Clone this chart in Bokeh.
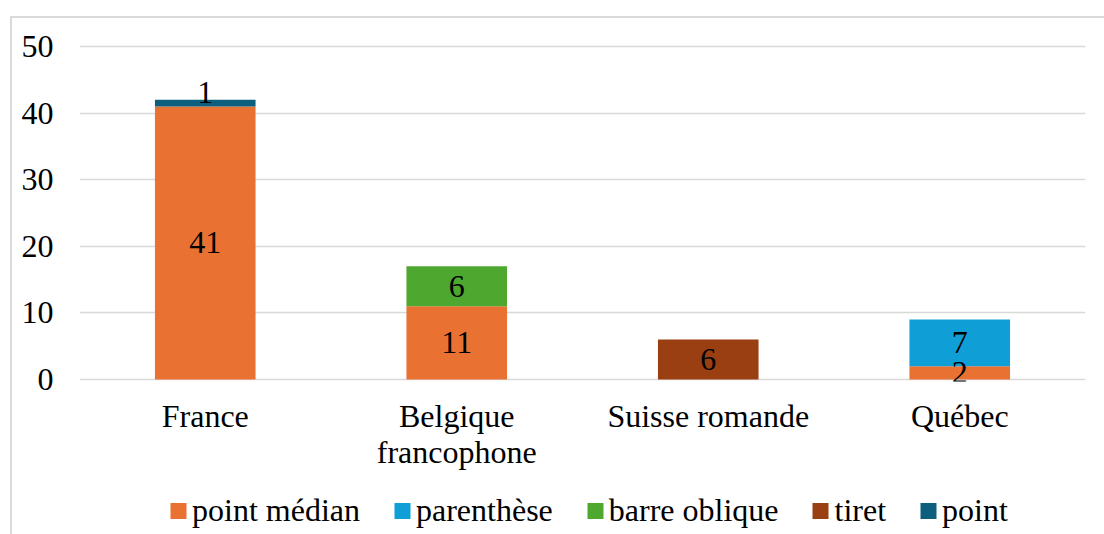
from bokeh.plotting import figure
from bokeh.layouts import column
from bokeh.models import (ColumnDataSource, Range1d, Legend, LegendItem, LabelSet,
                          LinearAxis, FixedTicker)
from bokeh.embed import file_html
from bokeh.resources import INLINE

# ---- data ----
categories = ["France", "Belgique francophone", "Suisse romande", "Québec"]
label_line1 = ["France", "Belgique", "Suisse romande", "Québec"]
label_line2 = ["", "francophone", "", ""]
series = ["point médian", "parenthèse", "barre oblique", "tiret", "point"]
point_median = [41, 11, 0, 2]
parenthese = [0, 0, 0, 7]
barre_oblique = [0, 6, 0, 0]
tiret = [0, 0, 6, 0]
point = [1, 0, 0, 0]
y_ticks = [0, 10, 20, 30, 40, 50]

# ---- styles ----
colors = ["#E97132", "#0F9ED5", "#4EA72E", "#9A3F12", "#0E5F7E"]
label_dy = [0, 0, 0, 0, 11]  # pixel nudge of data labels per series
FONT = "Liberation Serif"
FS = "32px"
GRID = "#D9D9D9"

values = [point_median, parenthese, barre_oblique, tiret, point]
xs = list(range(len(categories)))
keys = ["s%d" % i for i in range(len(series))]
data = {"x": xs}
for k, v in zip(keys, values):
    data[k] = v
src = ColumnDataSource(data)

W, H_MAIN, H_LEG = 1104, 486, 48

p = figure(x_range=Range1d(-0.5, len(categories) - 0.5),
           y_range=Range1d(-0.3, 50.3),
           width=W, height=H_MAIN, output_backend="svg", toolbar_location=None,
           min_border_left=79, min_border_right=19, min_border_top=44,
           min_border_bottom=H_MAIN - 381)
p.background_fill_color = None
p.border_fill_color = None
p.outline_line_color = None
p.styles = {
    "background": ("linear-gradient(#D9D9D9, #D9D9D9) 10px 16px / 2px 100% no-repeat, "
                   "linear-gradient(#D9D9D9, #D9D9D9) 10px 16px / 100% 2px no-repeat, white"),
}

renderers = p.vbar_stack(keys, x="x", width=0.4, color=colors, line_color=None,
                         line_width=0, source=src)

# data labels
lx, ly, lt, lo = [], [], [], []
for si, vals in enumerate(values):
    for ci in xs:
        v = vals[ci]
        if v:
            base = sum(values[j][ci] for j in range(si))
            lx.append(ci)
            ly.append(base + v / 2)
            lt.append(str(v))
            lo.append(label_dy[si])
lsrc = ColumnDataSource(dict(x=lx, y=ly, t=lt, o=lo))
labels = LabelSet(x="x", y="y", text="t", y_offset="o", source=lsrc,
                  text_align="center", text_baseline="middle",
                  text_font=FONT, text_font_size=FS, text_color="black")
p.add_layout(labels)

# axes
p.xgrid.visible = False
p.ygrid.grid_line_color = GRID
p.ygrid.grid_line_width = 1.5
p.yaxis.ticker = FixedTicker(ticks=y_ticks, minor_ticks=[])

ax1 = p.xaxis[0]
ax1.ticker = FixedTicker(ticks=xs, minor_ticks=[])
ax1.major_label_overrides = {i: t for i, t in zip(xs, label_line1)}

line2_ticks = [i for i, t in zip(xs, label_line2) if t]
ax2 = LinearAxis(ticker=FixedTicker(ticks=line2_ticks, minor_ticks=[]),
                 major_label_overrides={i: label_line2[i] for i in line2_ticks})
p.add_layout(ax2, "below")

for ax in (ax1, ax2, p.yaxis[0]):
    ax.axis_line_color = None
    ax.major_tick_line_color = None
    ax.minor_tick_line_color = None
    ax.major_tick_out = 0
    ax.major_tick_in = 0
    ax.minor_tick_out = 0
    ax.major_label_text_font = FONT
    ax.major_label_text_font_size = FS
    ax.major_label_text_color = "black"
p.yaxis.major_label_standoff = 26
ax1.major_label_standoff = 16
ax2.major_label_standoff = -3

# ---- legend strip below the chart ----
# same stacked renderers, kept out of this strip's visible range; only the legend shows
pl = figure(width=W, height=H_LEG, output_backend="svg", toolbar_location=None,
            x_range=Range1d(-0.5, len(categories) - 0.5), y_range=Range1d(1000, 1001),
            x_axis_location=None, y_axis_location=None,
            min_border_left=0, min_border_right=0, min_border_top=0, min_border_bottom=0)
pl.grid.visible = False
pl.background_fill_color = None
pl.border_fill_color = None
pl.outline_line_color = None
pl.styles = {
    "background": ("linear-gradient(#D9D9D9, #D9D9D9) 10px 0px / 2px 100% no-repeat, white"),
}
leg_renderers = pl.vbar_stack(keys, x="x", width=0.4, color=colors, line_color=None,
                              line_width=0, source=src)
items = [LegendItem(label=s, renderers=[r]) for s, r in zip(series, leg_renderers)]
legend = Legend(items=items, orientation="horizontal", location="left",
                padding=0, margin=89, spacing=32, label_standoff=4,
                glyph_width=20, glyph_height=20, border_line_color=None,
                background_fill_alpha=0, label_text_font=FONT,
                label_text_font_size=FS, label_text_color="black")
pl.add_layout(legend)

layout = column(p, pl, spacing=0)
open("out.html", "w").write(file_html(layout, INLINE))
